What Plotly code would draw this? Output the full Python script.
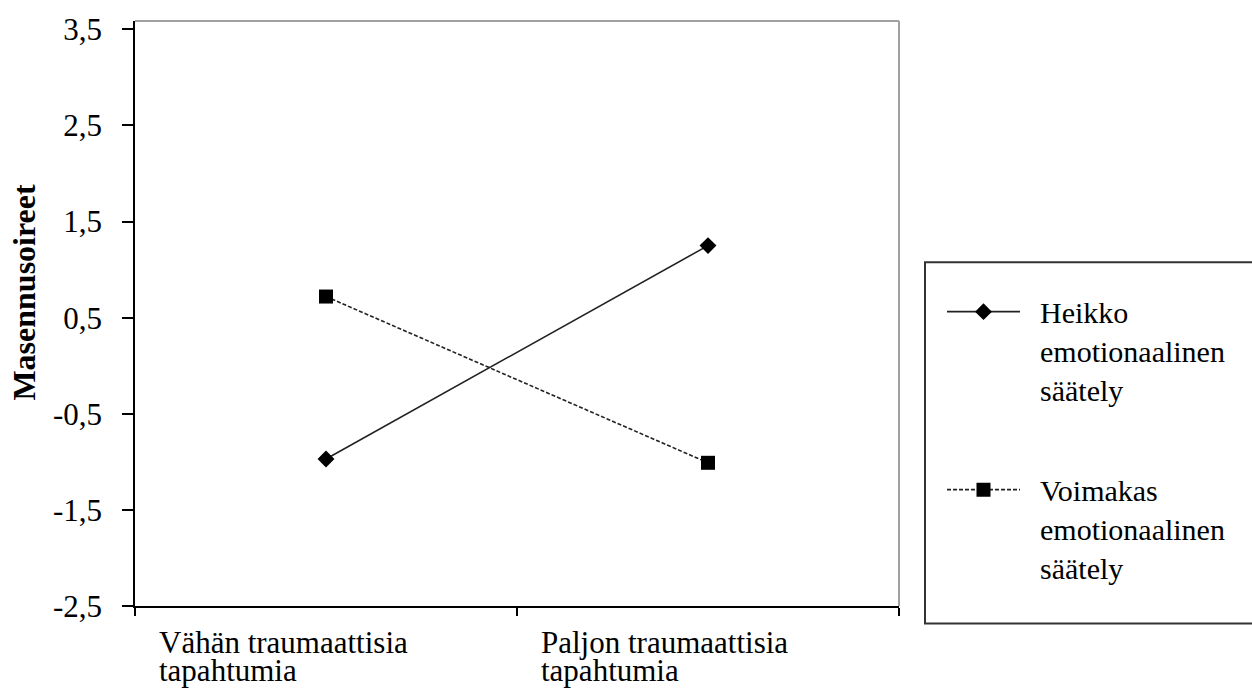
import plotly.graph_objects as go

# ---- data ----
categories = ["Vähän traumaattisia tapahtumia", "Paljon traumaattisia tapahtumia"]
category_lines = [["Vähän traumaattisia", "tapahtumia"], ["Paljon traumaattisia", "tapahtumia"]]
series_names = ["Heikko<br>emotionaalinen<br>säätely", "Voimakas<br>emotionaalinen<br>säätely"]
heikko = [-0.97, 1.25]
voimakas = [0.72, -1.01]
y_tickvals = [-2.5, -1.5, -0.5, 0.5, 1.5, 2.5, 3.5]
y_ticktext = ["-2,5", "-1,5", "-0,5", "0,5", "1,5", "2,5", "3,5"]
y_title = "Masennusoireet"

FONT = "Liberation Serif, Times New Roman, serif"
W, H = 1252, 695
L, R, T, B = 135, 353, 18, 89
PW, PH = W - L - R, H - T - B

def px_x(px):
    return (px - L) / PW

def px_y(py):
    return (H - B - py) / PH

def legend_label(name):
    # small gap between legend symbol and text
    return "<br>".join("\u00a0\u00a0" + part for part in name.split("<br>"))

xpos = list(range(len(categories)))

fig = go.Figure()
fig.add_trace(go.Scatter(
    x=xpos, y=heikko, name=legend_label(series_names[0]), mode="lines+markers",
    line=dict(color="#222222", width=1.6),
    marker=dict(symbol="diamond", size=13, color="black"),
    legendgroup="g1",
))
fig.add_trace(go.Scatter(
    x=xpos, y=voimakas, name=legend_label(series_names[1]), mode="lines+markers",
    line=dict(color="#222222", width=1.6, dash="4px,2px"),
    marker=dict(symbol="square", size=14, color="black"),
    legendgroup="g2",
))

annotations = []
for i, lines in enumerate(category_lines):
    for j, txt in enumerate(lines):
        annotations.append(dict(
            x=xpos[i], xref="x", y=0, yref="paper",
            xanchor="left", yanchor="top", xshift=-169, yshift=-17 - 28 * j,
            text=txt, showarrow=False,
            font=dict(family=FONT, size=31, color="black"),
        ))
annotations.append(dict(
    x=px_x(24), xref="paper", y=px_y(291), yref="paper",
    xanchor="center", yanchor="middle", textangle=-90,
    text="<b>" + y_title + "</b>", showarrow=False,
    font=dict(family=FONT, size=32, color="black"),
))

shapes = [
    # gray top and right frame
    dict(type="line", xref="paper", yref="paper", x0=0, x1=1, y0=1, y1=1,
         line=dict(color="#a0a0a0", width=2), layer="below"),
    dict(type="line", xref="paper", yref="paper", x0=1, x1=1, y0=0, y1=1,
         line=dict(color="#a0a0a0", width=2), layer="below"),
    # legend box
    dict(type="rect", xref="paper", yref="paper",
         x0=px_x(925), x1=px_x(1270), y0=px_y(623.5), y1=px_y(260.5),
         line=dict(color="#333333", width=2), fillcolor="rgba(0,0,0,0)"),
]

fig.update_layout(
    width=W, height=H,
    margin=dict(l=L, r=R, t=T, b=B),
    paper_bgcolor="white", plot_bgcolor="white",
    font=dict(family=FONT, size=31, color="black"),
    showlegend=True,
    legend=dict(
        x=px_x(942), y=px_y(284), xanchor="left", yanchor="top",
        font=dict(family=FONT, size=30, color="black"),
        itemwidth=73, valign="top", tracegroupgap=58,
        bgcolor="rgba(0,0,0,0)", borderwidth=0,
    ),
    annotations=annotations,
    shapes=shapes,
)
fig.update_xaxes(
    range=[-0.5, 1.5], tickvals=[-0.5, 0.5, 1.5], ticktext=["", "", ""],
    ticks="outside", ticklen=8, tickwidth=1.5, tickcolor="black",
    showline=True, linecolor="black", linewidth=1.5,
    showgrid=False, zeroline=False, fixedrange=True,
)
fig.update_yaxes(
    range=[-2.5, 3.587], tickvals=y_tickvals, ticktext=y_ticktext,
    ticks="outside", ticklen=11, tickwidth=1.5, tickcolor="black",
    showline=True, linecolor="black", linewidth=1.5,
    showgrid=False, zeroline=False, ticklabelstandoff=14,
    tickfont=dict(family=FONT, size=31, color="black"),
)

fig.write_html("out.html", config={"displayModeBar": False},
               post_script="document.body.style.margin='0';")
